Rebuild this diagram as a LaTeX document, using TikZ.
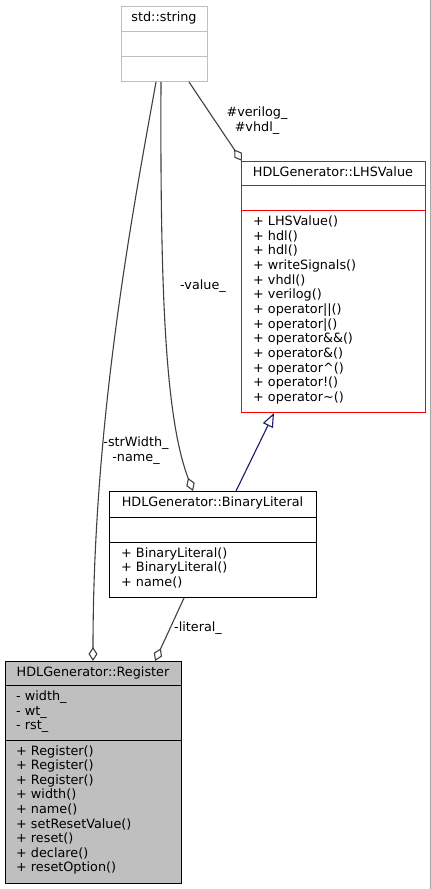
\documentclass[tikz,border=0pt]{standalone}
\usepackage{fontspec}
\setmainfont{DejaVu Sans}
\usetikzlibrary{arrows.meta,calc}
\definecolor{strgrey}{HTML}{BFBFBF}
\definecolor{regfill}{HTML}{BFBFBF}
\definecolor{edgegrey}{HTML}{404040}
\definecolor{inhnavy}{HTML}{191970}
\definecolor{lhsred}{HTML}{FF0000}
\begin{document}
\begin{tikzpicture}[x=1pt,y=-1pt,
  font=\fontsize{12.8}{14.6}\selectfont,
  box/.style={draw, line width=1pt, anchor=north west, inner sep=0pt},
  txt/.style={anchor=west, inner sep=0pt, text height=9pt, text depth=3pt},
  ttl/.style={anchor=center, inner sep=0pt, text height=9pt, text depth=3pt},
  lbl/.style={align=center, inner sep=0pt, font=\fontsize{12.8}{15}\selectfont},
  agg/.style={draw=edgegrey, line width=1.1pt, -{Diamond[open, length=14pt, width=9pt, line width=1.1pt]}},
  inh/.style={draw=inhnavy, line width=1.1pt, -{Triangle[open, length=14pt, width=11pt, line width=1.1pt]}}
]
\useasboundingbox (0,0) rectangle (431,889);
\fill[white] (0,0) rectangle (431,889);
\draw[line width=1pt, draw=gray!70] (430.5,0) -- (430.5,889);

% std::string
\node[box, draw=strgrey, minimum width=86pt, minimum height=75pt] (str) at (121,6) {};
\draw[strgrey, line width=1pt] (121,31) -- (207,31);
\draw[strgrey, line width=1pt] (121,56) -- (207,56);
\node[ttl] (strT) at (164,18.5) {std::string};

% LHSValue
\node[box, draw=lhsred, minimum width=184pt, minimum height=251pt] (lhs) at (241,161) {};
\draw[lhsred, line width=1pt] (241,185.5) -- (425,185.5);
\draw[lhsred, line width=1pt] (241,210.5) -- (425,210.5);
\node[ttl] (lhsT) at (333,173) {HDLGenerator::LHSValue};
\foreach \t [count=\i from 0] in {{+ LHSValue()},{+ hdl()},{+ hdl()},{+ writeSignals()},{+ vhdl()},{+ verilog()},{+ operator||()},{+ operator|()},{+ operator\&\&()},{+ operator\&()},{+ operator\textasciicircum()},{+ operator!()},{+ operator\textasciitilde()}}
  \node[txt] (lhsM\i) at (253,{222.5+14.67*\i}) {\t};

% BinaryLiteral
\node[box, minimum width=207pt, minimum height=106pt] (bin) at (109,491) {};
\draw[line width=1pt] (109,517) -- (316,517);
\draw[line width=1pt] (109,542) -- (316,542);
\node[ttl] (binT) at (212.5,503.5) {HDLGenerator::BinaryLiteral};
\foreach \t [count=\i from 0] in {{+ BinaryLiteral()},{+ BinaryLiteral()},{+ name()}}
  \node[txt] (binM\i) at (121,{554+14.5*\i}) {\t};

% Register
\node[box, fill=regfill, minimum width=176pt, minimum height=222pt] (reg) at (5,661) {};
\draw[line width=1pt] (5,685.5) -- (181,685.5);
\draw[line width=1pt] (5,740) -- (181,740);
\node[ttl] (regT) at (93,673) {HDLGenerator::Register};
\foreach \t [count=\i from 0] in {{- width\_},{- wt\_},{- rst\_}}
  \node[txt] (regA\i) at (16,{697.5+14.5*\i}) {\t};
\foreach \t [count=\i from 0] in {{+ Register()},{+ Register()},{+ Register()},{+ width()},{+ name()},{+ setResetValue()},{+ reset()},{+ declare()},{+ resetOption()}}
  \node[txt] (regM\i) at (16,{752+14.6*\i}) {\t};

% connectors
\coordinate (s1) at ($(str.south west)+(35,0)$);
\coordinate (s2) at ($(str.south west)+(40,0)$);
\coordinate (s3) at ($(str.south west)+(68,0)$);
\coordinate (r1) at ($(reg.north west)+(88,0)$);
\coordinate (r2) at ($(reg.north west)+(150,0)$);
\coordinate (b1) at ($(bin.north west)+(84,0)$);
\coordinate (b2) at ($(bin.north west)+(127,0)$);
\coordinate (b3) at ($(bin.south west)+(75,0)$);
\coordinate (l1) at ($(lhs.north west)+(1,0)$);
\coordinate (l2) at ($(lhs.south west)+(33,0)$);

\draw[agg] (s1) .. controls (133,210) and (93,420) .. (r1);
\draw[agg] (s2) .. controls (160,300) and (166,420) .. (b1);
\draw[agg] (s3) -- (l1);
\draw[inh] (b2) -- (l2);
\draw[agg] (b3) -- (r2);

\node[lbl] (lab1) at (257,120.5) {\#verilog\_\\\#vhdl\_};
\node[lbl] (lab2) at (203,286) {-value\_};
\node[lbl] (lab3) at (136,450.5) {-strWidth\_\\-name\_};
\node[lbl] (lab4) at (198,628) {-literal\_};
\end{tikzpicture}
\end{document}
